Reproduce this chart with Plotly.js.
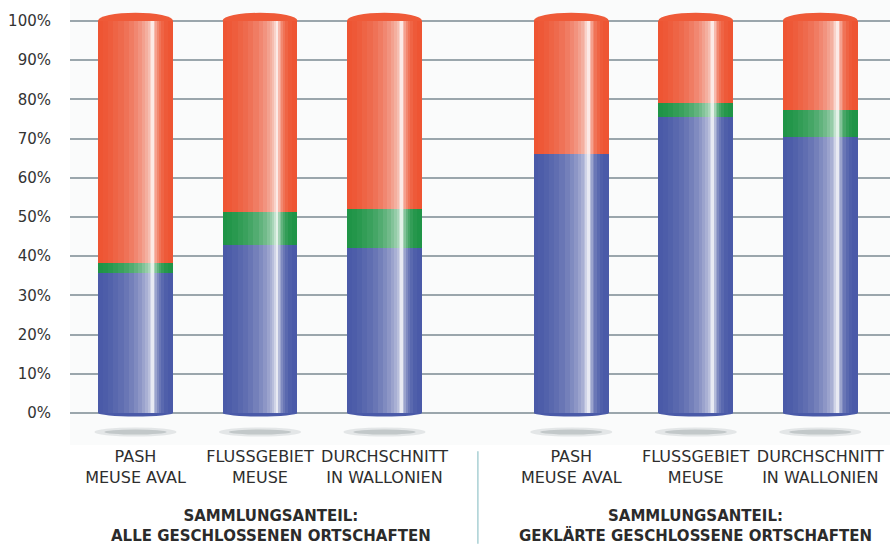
<!DOCTYPE html>
<html>
<head>
<meta charset="utf-8">
<script src="https://cdn.plot.ly/plotly-3.0.1.min.js"></script>
<style>html,body{margin:0;padding:0;background:#fff;}#chart{width:890px;height:546px;}</style>
</head>
<body>
<div id="chart"></div>
<script>
// ---- data ----
const categories = ['PASH<br>MEUSE AVAL', 'FLUSSGEBIET<br>MEUSE', 'DURCHSCHNITT<br>IN WALLONIEN',
                    'PASH<br>MEUSE AVAL', 'FLUSSGEBIET<br>MEUSE', 'DURCHSCHNITT<br>IN WALLONIEN'];
const blueShare   = [35.7, 42.9, 42.0, 66.2, 75.5, 70.5];
const greenShare  = [2.5, 8.5, 10.0, 0.0, 3.7, 6.8];
const orangeShare = [61.8, 48.6, 48.0, 33.8, 20.8, 22.7];
const groupTitles = ['SAMMLUNGSANTEIL:<br>ALLE GESCHLOSSENEN ORTSCHAFTEN',
                     'SAMMLUNGSANTEIL:<br>GEKLÄRTE GESCHLOSSENE ORTSCHAFTEN'];
const yTickVals = [0, 10, 20, 30, 40, 50, 60, 70, 80, 90, 100];
const yTickText = ['0%', '10%', '20%', '30%', '40%', '50%', '60%', '70%', '80%', '90%', '100%'];

// ---- layout / style ----
const slotX = [0, 1, 2, 3.5, 4.5, 5.5];
const groupTitleX = [1.09, 4.5];
const barW = 0.6;
const COLORS = {blue: '#4a5aa8', green: '#1f9447', orange: '#ee5533'};
// cylinder highlight: rising part [start fraction, whiteness], falling part [end fraction, whiteness]
const PEAK = 0.745;
const rising = [[0.06, 0.02], [0.13, 0.05], [0.20, 0.09], [0.27, 0.13], [0.34, 0.18], [0.41, 0.24],
                [0.48, 0.31], [0.54, 0.38], [0.59, 0.46], [0.63, 0.54], [0.665, 0.63], [0.69, 0.75], [0.71, 0.88]];
const falling = [[0.93, 0.03], [0.88, 0.09], [0.84, 0.18], [0.81, 0.30], [0.785, 0.45], [0.765, 0.6]];

const blueTop = blueShare.slice();
const greenTop = blueShare.map((v, i) => v + greenShare[i]);
const totals = greenTop.map((v, i) => v + orangeShare[i]);

const traces = [];
function seg(y, base, color, name) {
  return {type: 'bar', x: slotX, y: y, base: base, width: barW, name: name,
          marker: {color: color, line: {width: 0}}, hoverinfo: 'skip', showlegend: false};
}
traces.push(seg(blueShare, slotX.map(() => 0), COLORS.blue, 'blue'));
traces.push(seg(greenShare, blueTop, COLORS.green, 'green'));
traces.push(seg(orangeShare, greenTop, COLORS.orange, 'orange'));

function shineBar(f0, f1, a) {
  traces.push({type: 'bar', x: slotX, y: totals, base: slotX.map(() => 0),
    width: (f1 - f0) * barW, offset: -barW / 2 + f0 * barW,
    marker: {color: 'rgba(255,255,255,' + a.toFixed(4) + ')', line: {width: 0}},
    hoverinfo: 'skip', showlegend: false});
}
let prev = 0;
rising.forEach(([f, w]) => { shineBar(f, PEAK, 1 - (1 - w) / (1 - prev)); prev = w; });
prev = 0;
falling.forEach(([g, w]) => { shineBar(PEAK, g, 1 - (1 - w) / (1 - prev)); prev = w; });

const shapes = [];
slotX.forEach((x, i) => {
  shapes.push({type: 'circle', xref: 'x', yref: 'y', layer: 'between',
    x0: x - barW / 2 - 0.03, x1: x + barW / 2 + 0.03, y0: -6.0, y1: -3.7,
    fillcolor: 'rgba(175,182,186,0.3)', line: {width: 0}});
  shapes.push({type: 'circle', xref: 'x', yref: 'y', layer: 'between',
    x0: x - barW / 2 + 0.05, x1: x + barW / 2 - 0.05, y0: -5.5, y1: -4.2,
    fillcolor: 'rgba(145,154,158,0.4)', line: {width: 0}});
  shapes.push({type: 'circle', xref: 'x', yref: 'y', layer: 'between',
    x0: x - barW / 2, x1: x + barW / 2, y0: totals[i] - 1.8, y1: totals[i] + 2.1,
    fillcolor: '#ef5a38', line: {width: 0}});
  shapes.push({type: 'circle', xref: 'x', yref: 'y', layer: 'between',
    x0: x - barW / 2, x1: x + barW / 2, y0: -0.9, y1: 0.9,
    fillcolor: COLORS.blue, line: {width: 0}});
});
shapes.push({type: 'line', xref: 'x', yref: 'paper', x0: 2.75, x1: 2.75, y0: -0.014, y1: -0.222,
  line: {color: '#a9d0d4', width: 1.5}});

const annotations = groupTitles.map((t, k) => ({
  text: t, xref: 'x', yref: 'paper', x: groupTitleX[k], y: -0.183,
  xanchor: 'center', yanchor: 'middle', showarrow: false, align: 'center',
  font: {family: 'DejaVu Sans', size: 15, weight: 'bold', color: '#2b2b2b'}
}));

const layout = {
  width: 890, height: 546,
  margin: {l: 70, r: 0, t: 0, b: 101, pad: 0},
  paper_bgcolor: '#ffffff', plot_bgcolor: '#fafbfb',
  barmode: 'overlay', bargap: 0,
  showlegend: false,
  xaxis: {range: [-0.526, 6.06], tickvals: slotX, ticktext: categories,
    showgrid: false, zeroline: false, ticks: '', showline: false, fixedrange: true,
    tickfont: {family: 'DejaVu Sans', size: 16, color: '#2e2e2e'}},
  yaxis: {range: [-8.16, 105.36], tickvals: yTickVals, ticktext: yTickText,
    showgrid: true, gridcolor: '#9aa6ac', gridwidth: 2, zeroline: false,
    ticks: 'outside', ticklen: 15, tickcolor: 'rgba(0,0,0,0)', showline: false,
    tickfont: {family: 'DejaVu Sans', size: 15, color: '#333333'}},
  shapes: shapes,
  annotations: annotations
};

Plotly.newPlot('chart', traces, layout, {displayModeBar: false, staticPlot: true});
</script>
</body>
</html>
